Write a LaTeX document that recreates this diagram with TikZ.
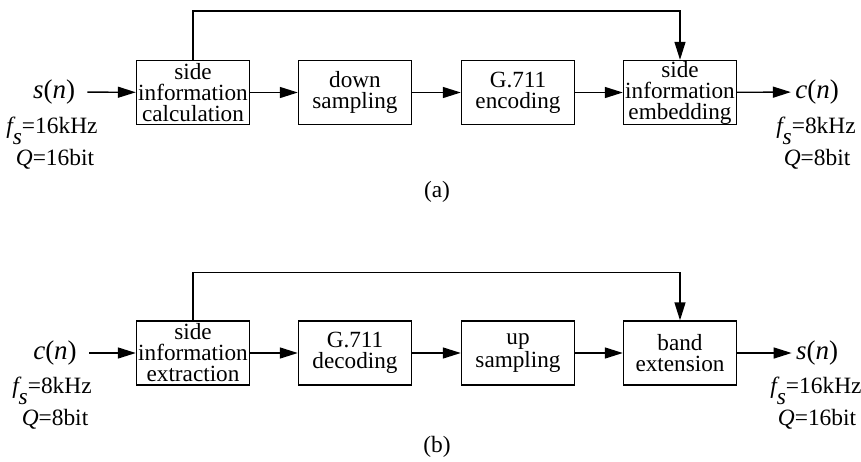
\documentclass[tikz,border=0pt]{standalone}
\usepackage{fontspec}
\setmainfont{Liberation Serif}
\usetikzlibrary{arrows.meta}
\tikzset{
  block/.style={draw, line width=0.7pt, minimum width=56.5pt, minimum height=32pt, inner sep=0pt, align=center, font=\fontsize{11.6}{10.5}\selectfont},
  sig/.style={inner sep=1pt, font=\fontsize{13.5}{14}\selectfont},
  rate/.style={inner sep=0pt, anchor=base, font=\fontsize{11.7}{12}\selectfont},
  flow/.style={-{Triangle[length=9pt,width=5.5pt]}, line width=0.7pt},
}
\newcommand{\fsub}{\textit{f}\kern-0.12em\smash{\raisebox{-5.5pt}{\textit{s}}}}
\begin{document}
\begin{tikzpicture}[x=0.5pt,y=-0.5pt]
\useasboundingbox (0,0) rectangle (861,461);
% (a) encoder side
\node[block] (a1) at (193,92.5) {side\\information\\calculation};
\node[block] (a2) at (355,92.5) {down\\sampling};
\node[block] (a3) at (518,92.5) {G.711\\encoding};
\node[block] (a4) at (680,92.5) {side\\information\\embedding};
\node[sig] (ain) at (54,92) {\textit{s}(\textit{n})};
\node[sig] (aout) at (817,92) {\textit{c}(\textit{n})};
\node[rate] (ainf) at (52,133) {\fsub=16kHz};
\node[rate] (ainq) at (55,165) {\textit{Q}=16bit};
\node[rate] (aoutf) at (816,133) {\fsub=8kHz};
\node[rate] (aoutq) at (817,165) {\textit{Q}=8bit};
\node[rate] (acap) at (437,197) {(a)};
\draw[flow, shorten <=5pt] (ain) -- (a1);
\draw[flow] (a1) -- (a2);
\draw[flow] (a2) -- (a3);
\draw[flow] (a3) -- (a4);
\draw[flow, shorten >=1pt] (a4) -- (aout);
\draw[flow] (a1.north) -- ++(0,-49) -| (a4.north);
% (b) decoder side
\node[block] (b1) at (193,353) {side\\information\\extraction};
\node[block] (b2) at (355,353) {G.711\\decoding};
\node[block] (b3) at (518,353) {up\\sampling};
\node[block] (b4) at (680,353) {band\\extension};
\node[sig] (bin) at (55,353) {\textit{c}(\textit{n})};
\node[sig] (bout) at (817,353) {\textit{s}(\textit{n})};
\node[rate] (binf) at (52,393) {\fsub=8kHz};
\node[rate] (binq) at (55,425) {\textit{Q}=8bit};
\node[rate] (boutf) at (816,393) {\fsub=16kHz};
\node[rate] (boutq) at (817,425) {\textit{Q}=16bit};
\node[rate] (bcap) at (437,452) {(b)};
\draw[flow, shorten <=5pt] (bin) -- (b1);
\draw[flow] (b1) -- (b2);
\draw[flow] (b2) -- (b3);
\draw[flow] (b3) -- (b4);
\draw[flow, shorten >=1pt] (b4) -- (bout);
\draw[flow] (b1.north) -- ++(0,-48) -| (b4.north);
\end{tikzpicture}
\end{document}
